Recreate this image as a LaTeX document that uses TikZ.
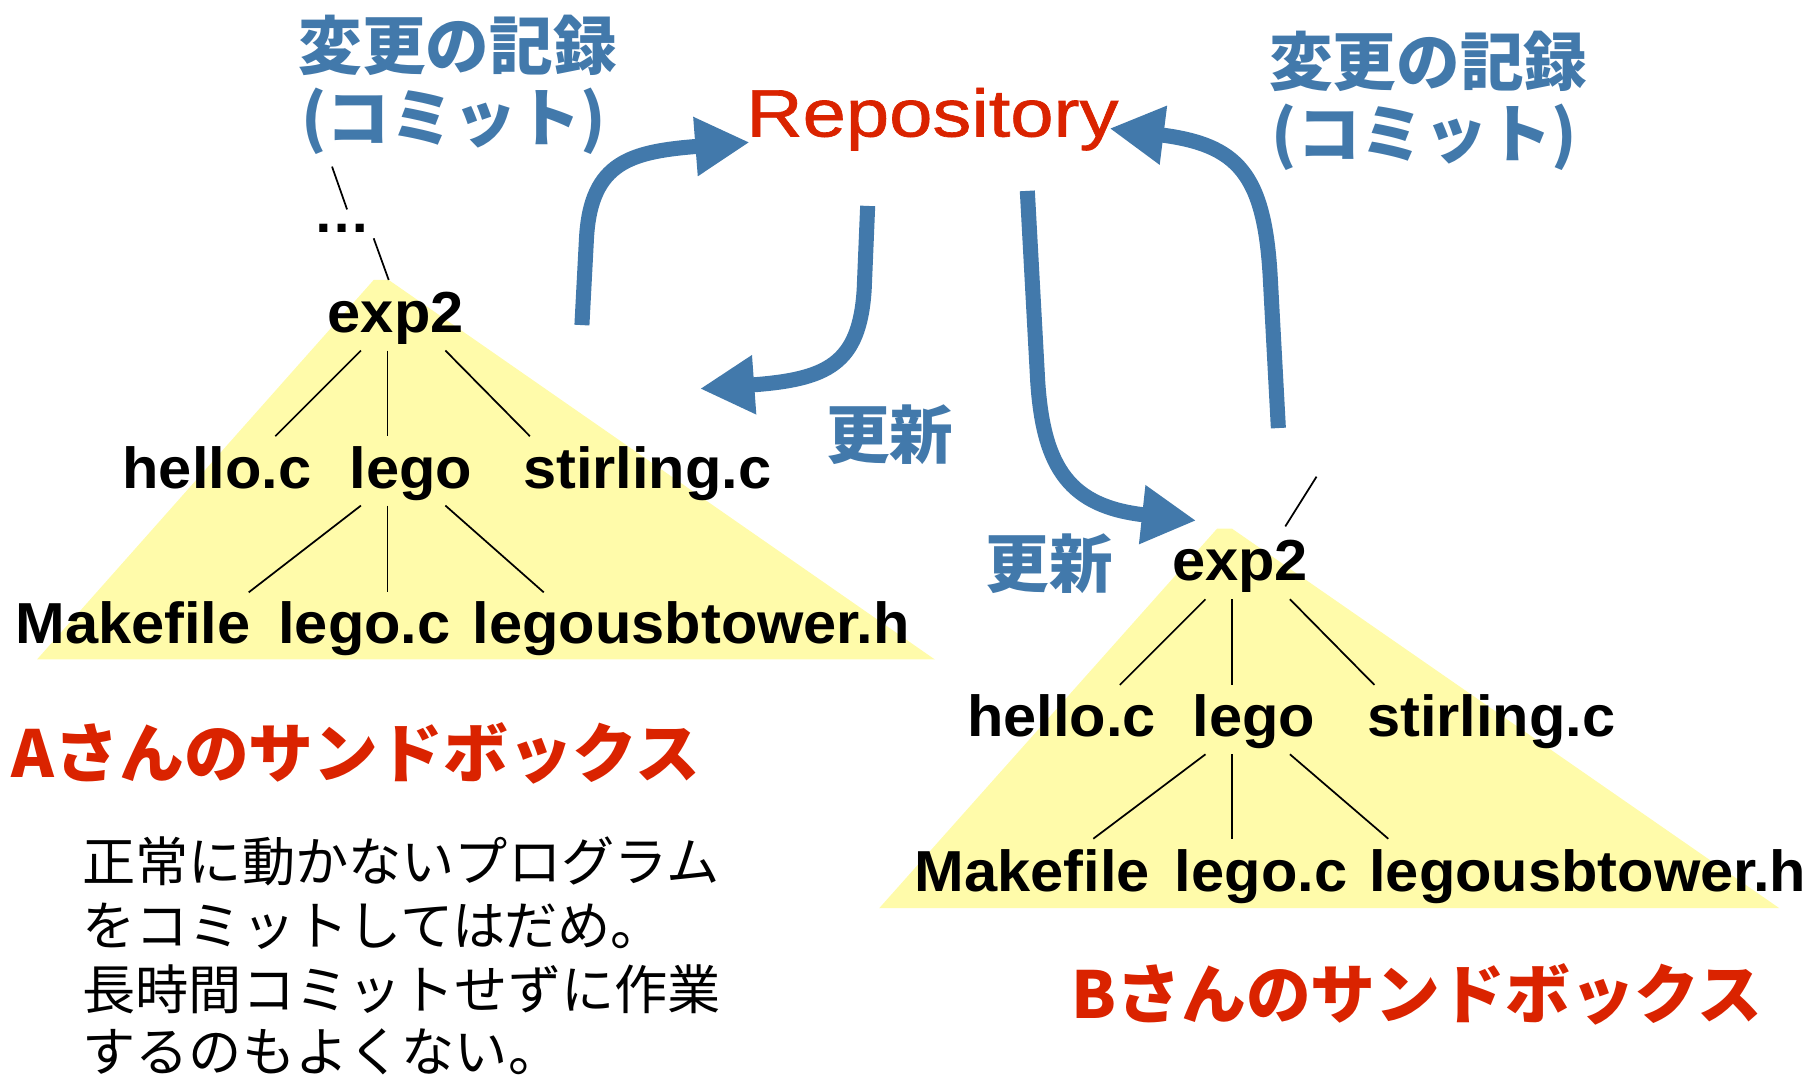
\documentclass[tikz,border=0pt]{standalone}
\usepackage{fontspec}
\usetikzlibrary{arrows.meta}
\newfontfamily\jp{Noto Sans CJK JP}
\newfontfamily\lat[FakeStretch=1.03]{Liberation Sans}
\newfontfamily\repofont[FakeStretch=1.16,FakeBold=1]{Liberation Sans}
\definecolor{cblue}{RGB}{66,121,171}
\definecolor{cred}{RGB}{218,35,0}
\definecolor{cyel}{RGB}{255,251,170}
\tikzset{
  lbl/.style={font=\lat\bfseries\fontsize{50}{50}\selectfont, inner sep=0pt, anchor=base},
  bluetitle/.style={font=\jp\bfseries\fontsize{55}{60}\selectfont, text=cblue, inner sep=0pt, anchor=base west},
  redtitle/.style={font=\jp\bfseries\fontsize{56}{60}\selectfont, text=cred, inner sep=0pt, anchor=base west},
  para/.style={font=\jp\fontsize{46}{55}\selectfont, inner sep=0pt, anchor=base west},
  branch/.style={line width=1.5pt, black},
  bigarrow/.style={line width=13pt, cblue, -{Triangle[length=47pt,width=48pt]}},
  sandbox/.style={fill=cyel}
}
\begin{document}
\begin{tikzpicture}[x=1pt,y=-1pt]
\useasboundingbox (0,0) rectangle (1568,929);

% sandboxes
\fill[sandbox] (323,242) -- (336,242) -- (808,570) -- (32,570) -- cycle;
\fill[sandbox] (1052,457) -- (1065,457) -- (1538,785) -- (760,785) -- cycle;

% titles
\node[bluetitle] (recA) at (258,60) {変更の記録};
\node[bluetitle] (comA) at (260,122) {(コミット)};
\node[bluetitle] (recB) at (1097,74) {変更の記録};
\node[bluetitle] (comB) at (1099,136) {(コミット)};
\node[font=\repofont\fontsize{58}{62}\selectfont, text=cred, inner sep=0pt, anchor=base] (repo) at (806,118) {Repository};
\node[bluetitle] (updA) at (714,396) {更新};
\node[bluetitle] (updB) at (852,508) {更新};

% left tree
\node[font=\lat\bfseries\fontsize{48}{48}\selectfont, inner sep=0pt, anchor=base] (dots) at (296,201) {…};
\node[lbl] (expA) at (342,287) {exp2};
\node[lbl] (helloA) at (187.5,422) {hello.c};
\node[lbl] (legoA) at (355,422) {lego};
\node[lbl] (stirA) at (559.5,422) {stirling.c};
\node[lbl] (makeA) at (115,556) {Makefile};
\node[lbl] (legocA) at (315,556) {lego.c};
\node[lbl] (towerA) at (597.5,556) {legousbtower.h};

% right tree
\node[lbl] (expB) at (1072,502) {exp2};
\node[lbl] (helloB) at (917.5,637) {hello.c};
\node[lbl] (legoB) at (1084,637) {lego};
\node[lbl] (stirB) at (1289,637) {stirling.c};
\node[lbl] (makeB) at (892.5,771) {Makefile};
\node[lbl] (legocB) at (1090,771) {lego.c};
\node[lbl] (towerB) at (1372.5,771) {legousbtower.h};

% branch end points
\coordinate (cA1) at (287,144); \coordinate (cA2) at (300,181);
\coordinate (cA3) at (323,206); \coordinate (cA4) at (336,242);
\coordinate (eA0) at (312,303); \coordinate (eA1) at (335,303); \coordinate (eA2) at (385,303);
\coordinate (hA) at (238,377); \coordinate (lA) at (335,377); \coordinate (sA) at (458,377);
\coordinate (gA0) at (312,437); \coordinate (gA1) at (335,437); \coordinate (gA2) at (385,437);
\coordinate (mA) at (215,512); \coordinate (cA) at (335,512); \coordinate (tA) at (470,512);

\coordinate (cB1) at (1138,412); \coordinate (cB2) at (1111,455);
\coordinate (eB0) at (1042,518); \coordinate (eB1) at (1065,518); \coordinate (eB2) at (1115,518);
\coordinate (hB) at (968,592); \coordinate (lB) at (1065,592); \coordinate (sB) at (1188,592);
\coordinate (gB0) at (1042,652); \coordinate (gB1) at (1065,652); \coordinate (gB2) at (1115,652);
\coordinate (mB) at (945,725); \coordinate (cB) at (1065,725); \coordinate (tB) at (1200,725);

\draw[branch] (cA1) -- (cA2);
\draw[branch] (cA3) -- (cA4);
\draw[branch] (eA0) -- (hA);
\draw[branch] (eA1) -- (lA);
\draw[branch] (eA2) -- (sA);
\draw[branch] (gA0) -- (mA);
\draw[branch] (gA1) -- (cA);
\draw[branch] (gA2) -- (tA);

\draw[branch] (cB1) -- (cB2);
\draw[branch] (eB0) -- (hB);
\draw[branch] (eB1) -- (lB);
\draw[branch] (eB2) -- (sB);
\draw[branch] (gB0) -- (mB);
\draw[branch] (gB1) -- (cB);
\draw[branch] (gB2) -- (tB);

% big arrows
\coordinate (a1s) at (503,281); \coordinate (a1t) at (648,123);
\coordinate (a2s) at (750,178); \coordinate (a2t) at (605,336);
\coordinate (a3s) at (888,165); \coordinate (a3t) at (1034,450);
\coordinate (a4s) at (1105,370); \coordinate (a4t) at (959,111);
\draw[bigarrow] (a1s) -- (507,205) .. controls (511,140) and (545,131) .. (a1t);
\draw[bigarrow] (a2s) -- (747,250) .. controls (743,315) and (715,328) .. (a2t);
\draw[bigarrow] (a3s) -- (897,330) .. controls (902,405) and (925,438) .. (a3t);
\draw[bigarrow] (a4s) -- (1098,240) .. controls (1093,150) and (1070,125) .. (a4t);

% sandbox names
\node[redtitle] (sbA) at (10,672) {Aさんのサンドボックス};
\node[redtitle] (sbB) at (926,880) {Bさんのサンドボックス};

% note
\node[para] (n1) at (71,762) {正常に動かないプログラム};
\node[para] (n2) at (71,817) {をコミットしてはだめ。};
\node[para] (n3) at (71,873) {長時間コミットせずに作業};
\node[para] (n4) at (71,926) {するのもよくない。};
\end{tikzpicture}
\end{document}
